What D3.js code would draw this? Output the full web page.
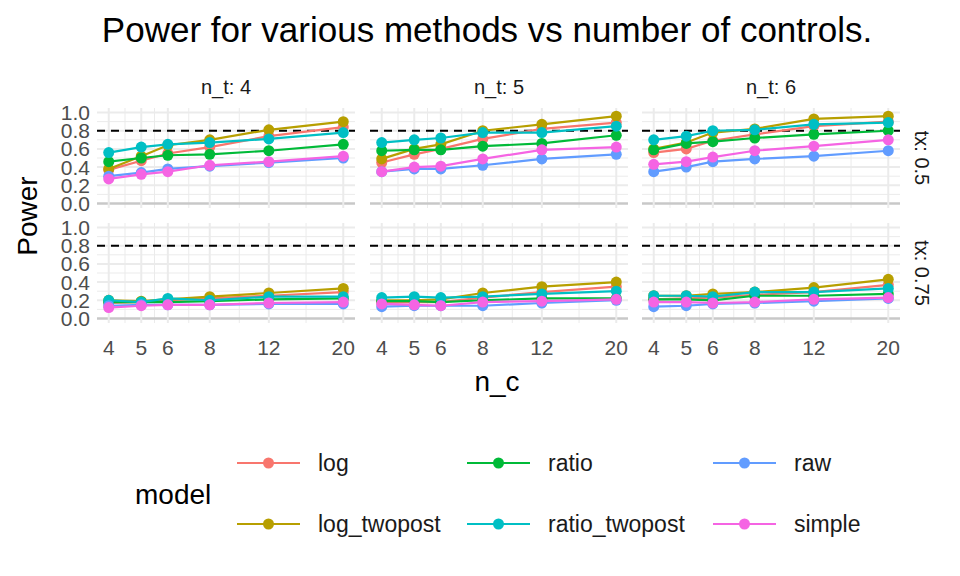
<!DOCTYPE html>
<html><head><meta charset="utf-8">
<script src="https://cdn.jsdelivr.net/npm/d3@7"></script>
<style>body{margin:0;background:#fff}text{font-family:"Liberation Sans",Arial,sans-serif}</style>
</head><body>
<svg id="chart" width="960" height="576"></svg>
<script>
const nc = [4, 5, 6, 8, 12, 20];
const models = ["log", "log_twopost", "ratio", "ratio_twopost", "raw", "simple"];
const colors = ["#F8766D", "#B79F00", "#00BA38", "#00BFC4", "#619CFF", "#F564E3"];
const ntLevels = [4, 5, 6];
const txLevels = ["0.5", "0.75"];
const yTicks = [0, 0.2, 0.4, 0.6, 0.8, 1.0];

// power[tx][nt][model] = values over nc
const power = {
  "0.5": {
    4: { log: [0.37,0.47,0.55,0.62,0.74,0.84], log_twopost: [0.38,0.52,0.64,0.70,0.81,0.90],
         ratio: [0.46,0.50,0.53,0.54,0.58,0.65], ratio_twopost: [0.56,0.62,0.65,0.67,0.71,0.78],
         raw: [0.30,0.34,0.38,0.41,0.45,0.50], simple: [0.27,0.32,0.35,0.42,0.46,0.52] },
    5: { log: [0.45,0.54,0.60,0.71,0.82,0.89], log_twopost: [0.49,0.60,0.65,0.80,0.87,0.96],
         ratio: [0.58,0.59,0.59,0.63,0.66,0.75], ratio_twopost: [0.67,0.70,0.72,0.78,0.78,0.85],
         raw: [0.35,0.38,0.38,0.42,0.49,0.54], simple: [0.35,0.40,0.41,0.49,0.59,0.62] },
    6: { log: [0.56,0.60,0.69,0.76,0.85,0.90], log_twopost: [0.60,0.67,0.78,0.82,0.93,0.96],
         ratio: [0.59,0.66,0.68,0.72,0.76,0.80], ratio_twopost: [0.70,0.74,0.80,0.81,0.87,0.89],
         raw: [0.35,0.40,0.46,0.49,0.52,0.58], simple: [0.43,0.46,0.51,0.58,0.63,0.70] }
  },
  "0.75": {
    4: { log: [0.17,0.18,0.20,0.22,0.25,0.29], log_twopost: [0.20,0.19,0.21,0.24,0.28,0.33],
         ratio: [0.18,0.18,0.18,0.19,0.21,0.22], ratio_twopost: [0.20,0.18,0.22,0.20,0.24,0.24],
         raw: [0.14,0.15,0.15,0.15,0.16,0.16], simple: [0.12,0.14,0.15,0.15,0.17,0.18] },
    5: { log: [0.17,0.18,0.18,0.23,0.29,0.35], log_twopost: [0.20,0.20,0.21,0.28,0.35,0.40],
         ratio: [0.19,0.19,0.18,0.20,0.22,0.22], ratio_twopost: [0.23,0.24,0.23,0.24,0.27,0.30],
         raw: [0.13,0.14,0.14,0.14,0.17,0.20], simple: [0.16,0.15,0.14,0.18,0.19,0.21] },
    6: { log: [0.21,0.22,0.23,0.26,0.29,0.37], log_twopost: [0.25,0.25,0.27,0.29,0.34,0.43],
         ratio: [0.21,0.21,0.20,0.25,0.25,0.27], ratio_twopost: [0.25,0.25,0.24,0.29,0.29,0.33],
         raw: [0.13,0.14,0.16,0.17,0.19,0.22], simple: [0.18,0.18,0.17,0.18,0.21,0.23] }
  }
};

const svg = d3.select("#chart");
const color = d3.scaleOrdinal(models, colors);
const panelX = [97, 370, 642], panelW = 258;
const panelY = [108, 223], panelH = 100;
const lr = Math.log(20) - Math.log(4), pad = lr * 0.05;

svg.append("text").attr("x", 487).attr("y", 42).attr("text-anchor", "middle")
  .attr("font-size", 35).text("Power for various methods vs number of controls.");

ntLevels.forEach((nt, ci) => {
  svg.append("text").attr("x", panelX[ci] + panelW / 2).attr("y", 94).attr("text-anchor", "middle")
    .attr("font-size", 20).attr("fill", "#1a1a1a").text("n_t: " + nt);
  const x = d3.scaleLog().domain([4 * Math.exp(-pad), 20 * Math.exp(pad)]).range([panelX[ci], panelX[ci] + panelW]);
  txLevels.forEach((tx, ri) => {
    const y = d3.scaleLinear().domain([-0.05, 1.05]).range([panelY[ri] + panelH, panelY[ri]]);
    const g = svg.append("g");
    // minor grid
    d3.range(0.1, 1.0, 0.2).forEach(v => g.append("line").attr("x1", panelX[ci]).attr("x2", panelX[ci] + panelW)
      .attr("y1", y(v)).attr("y2", y(v)).attr("stroke", "#ebebeb").attr("stroke-width", 1));
    for (let i = 0; i < nc.length - 1; i++) {
      const m = Math.sqrt(nc[i] * nc[i + 1]);
      g.append("line").attr("x1", x(m)).attr("x2", x(m)).attr("y1", panelY[ri]).attr("y2", panelY[ri] + panelH)
        .attr("stroke", "#ebebeb").attr("stroke-width", 1);
    }
    yTicks.forEach(v => g.append("line").attr("x1", panelX[ci]).attr("x2", panelX[ci] + panelW)
      .attr("y1", y(v)).attr("y2", y(v)).attr("stroke", v === 0 ? "#c8c8c8" : "#ebebeb").attr("stroke-width", v === 0 ? 2.5 : 2));
    nc.forEach(v => g.append("line").attr("x1", x(v)).attr("x2", x(v)).attr("y1", panelY[ri]).attr("y2", panelY[ri] + panelH)
      .attr("stroke", "#ebebeb").attr("stroke-width", 2));
    g.append("line").attr("x1", panelX[ci]).attr("x2", panelX[ci] + panelW).attr("y1", y(0.8)).attr("y2", y(0.8))
      .attr("stroke", "#000").attr("stroke-width", 2).attr("stroke-dasharray", "8,6");
    models.forEach(mo => {
      const pts = nc.map((c, i) => [x(c), y(power[tx][nt][mo][i])]);
      g.append("path").attr("d", d3.line()(pts)).attr("fill", "none").attr("stroke", color(mo)).attr("stroke-width", 2.2);
      g.selectAll(null).data(pts).join("circle").attr("cx", d => d[0]).attr("cy", d => d[1]).attr("r", 5.5).attr("fill", color(mo));
    });
    if (ci === 0) {
      yTicks.forEach(v => svg.append("text").attr("x", panelX[0] - 7).attr("y", y(v) + 7.5).attr("text-anchor", "end")
        .attr("font-size", 21).attr("fill", "#4d4d4d").text(v.toFixed(1)));
    }
    if (ri === 1) {
      nc.forEach(v => svg.append("text").attr("x", x(v)).attr("y", 355).attr("text-anchor", "middle")
        .attr("font-size", 21).attr("fill", "#4d4d4d").text(v));
    }
    if (ci === 2) {
      const cy = panelY[ri] + panelH / 2;
      svg.append("text").attr("transform", `translate(915,${cy}) rotate(90)`).attr("text-anchor", "middle")
        .attr("font-size", 20).attr("fill", "#1a1a1a").text("tx: " + tx);
    }
  });
});

svg.append("text").attr("transform", "translate(37,216) rotate(-90)").attr("text-anchor", "middle")
  .attr("font-size", 28).text("Power");
svg.append("text").attr("x", 497).attr("y", 391).attr("text-anchor", "middle").attr("font-size", 28).text("n_c");

// legend
svg.append("text").attr("x", 135).attr("y", 504).attr("font-size", 28).text("model");
const legCols = [237, 467, 713], legRows = [463, 524];
models.forEach((mo, i) => {
  const cx = legCols[Math.floor(i / 2)], cy = legRows[i % 2];
  svg.append("line").attr("x1", cx).attr("x2", cx + 63).attr("y1", cy).attr("y2", cy).attr("stroke", color(mo)).attr("stroke-width", 2.2);
  svg.append("circle").attr("cx", cx + 31.5).attr("cy", cy).attr("r", 5.5).attr("fill", color(mo));
  svg.append("text").attr("x", cx + 81).attr("y", cy + 8).attr("font-size", 23).attr("fill", "#1a1a1a").text(mo);
});
</script>
</body></html>
